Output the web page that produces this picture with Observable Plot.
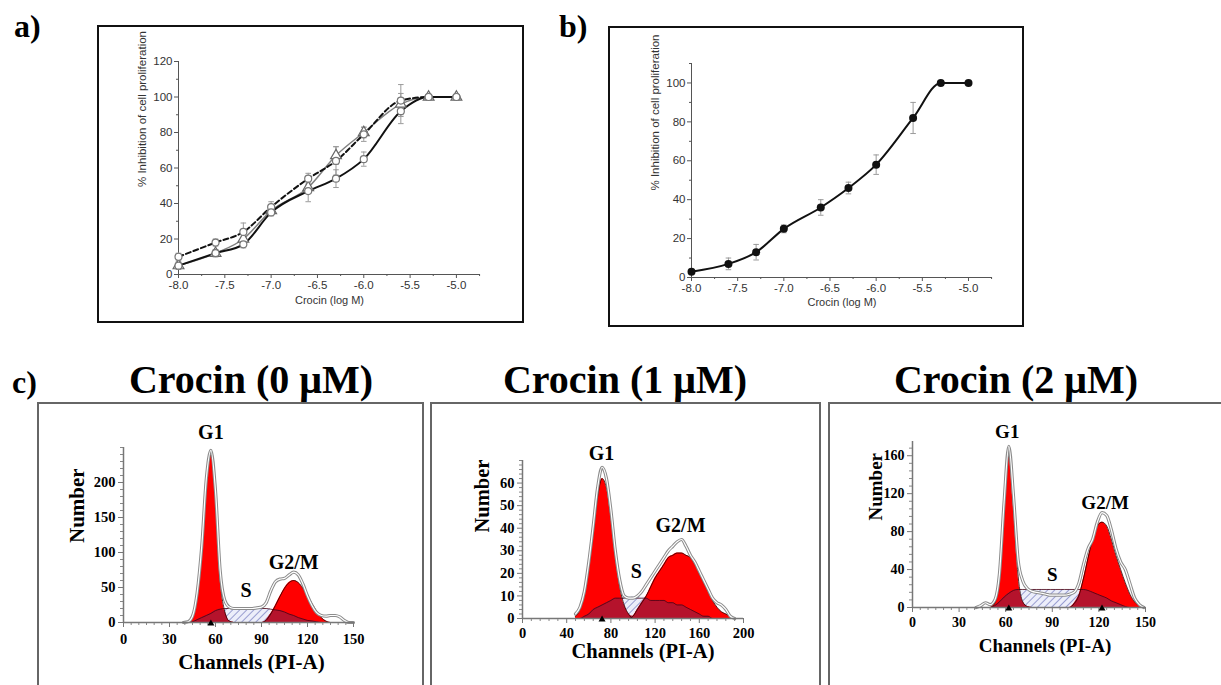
<!DOCTYPE html>
<html><head><meta charset="utf-8">
<script src="https://cdn.jsdelivr.net/npm/d3@7"></script>
<script src="https://cdn.jsdelivr.net/npm/@observablehq/plot@0.6"></script>
<style>
body{margin:0;background:#fff;}
#fig{position:relative;width:1221px;height:685px;overflow:hidden;background:#fff;}
.box{position:absolute;box-sizing:border-box;}
.lbl{position:absolute;font-family:"Liberation Serif",serif;font-weight:bold;font-size:32px;line-height:32px;white-space:nowrap;}
.ttl{position:absolute;font-family:"Liberation Serif",serif;font-weight:bold;font-size:40px;line-height:40px;white-space:nowrap;transform:translateX(-50%);}
</style></head><body><div id="fig"></div>
<script>
// ---------- Panel a / b : dose response ----------
const logDose     = [-8.0,-7.6,-7.3,-7.0,-6.6,-6.3,-6.0,-5.6,-5.3,-5.0];
const aSolid      = [5,12,17,35,47,54,65,92,100,100];
const aSolidErr   = [2,2,2,2,6,5,4,7,0,0];
const aDashed     = [10,18,24,38,54,64,79,98,100,100];
const aDashedErr  = [2,2,5,3,3,8,4,9,0,0];
const aGray       = [5,12,20,36,49,67,80,96,100,100];
const aGrayErr    = [2,2,3,2,3,5,3,6,0,0];
const bMean       = [3,7,13,25,36,46,58,82,100,100];
const bErr        = [1,3,4,2,4,3,5,8,0,0];
const doseTicks   = [-8.0,-7.5,-7.0,-6.5,-6.0,-5.5,-5.0];
const doseMinor   = [-7.75,-7.25,-6.75,-6.25,-5.75,-5.25,-4.75];
const aYTicks     = [0,20,40,60,80,100,120];
const bYTicks     = [0,20,40,60,80,100];
const pctMinor    = [10,30,50,70,90,110];

// ---------- Panel c : cell-cycle histograms ----------
const phaseNames = ["G1","S","G2/M"];
const c1Ch    = [39,42,45,48,51,54,57,60,63,66,69,72,75,78,81,84,87,90,93,96,99,102,105,108,111,114,117,120,123,126,129,132,135,138,141,144,147,150];
const c1G1    = [0,0,8,40,105,200,240,180,62,16,2,0,0,0,0,0,0,0,0,0,0,0,0,0,0,0,0,0,0,0,0,0,0,0,0,0,0,0];
const c1S     = [0,0,1,4,7,10,13,17,19,20,20,20,20,20,20,20,20,20,20,19,18,17,15,12,10,7,5,3,2,1,0,0,0,0,0,0,0,0];
const c1Hatch = [null,null,null,null,null,null,null,null,19,20,20,20,20,20,20,20,20,20,20,19,null,null,null,null,null,null,null,null,null,null,null,null,null,null,null,null,null,null];
const c1G2    = [0,0,0,0,0,0,0,0,0,0,0,0,0,0,0,0,0,0,3,12,24,37,49,57,60,57,49,38,27,16,7,2,0,0,0,0,0,0];
const c1Total = [0,1,9,42,108,205,246,188,75,32,22,20,20,20,20,20,21,22,28,45,58,62,63,68,72,68,55,38,24,14,10,9,10,10,8,3,0,0];
const c1Tri   = [57];

const c2Ch    = [48,52,56,60,64,68,72,76,80,84,88,92,96,100,104,108,112,116,120,124,128,132,136,140,144,148,152,156,160,164,168,172,176,180,184,188,192];
const c2G1    = [1,4,11,23,38,54,62,58,45,28,14,6,2,0,0,0,0,0,0,0,0,0,0,0,0,0,0,0,0,0,0,0,0,0,0,0,0];
const c2S     = [0,0,1,2,4,5,6,7,8,9,9,9,9,9,9,9,9,8,8,8,8,7,7,6,6,5,4,3,2,1,1,0,0,0,0,0,0];
const c2Hatch = [null,null,null,null,null,null,null,null,null,9,9.5,9.5,9.5,9.5,9.5,9.5,9.5,9.5,9,null,null,null,null,null,null,null,null,null,null,null,null,null,null,null,null,null,null];
const c2G2    = [0,0,0,0,0,0,0,0,0,0,0,0,0,1,4,7,10,14,18,21,24,27,28,29,29,28,27,24,20,16,12,8,5,3,2,1,0];
const c2Total = [2,5,12,25,41,58,67,62,48,30,17,10,9,9,10,12,15,18,21,24,27,30,32,34,35,32,28,25,21,17,13,9,7,6,4,1,0];
const c2Tri   = [72];

const c3Ch    = [41,44,47,50,53,56,59,62,65,68,71,74,77,80,83,86,89,92,95,98,101,104,107,110,113,116,119,122,125,128,131,134,137,140,143,146,149];
const c3G1    = [0,0,0,0,5,31,105,160,106,33,6,1,0,0,0,0,0,0,0,0,0,0,0,0,0,0,0,0,0,0,0,0,0,0,0,0,0];
const c3S     = [0,0,0,0,2,6,11,15,18,19,19,19,19,19,19,19,19,19,19,19,19,19,19,19,18,16,14,12,10,7,5,3,1,0,0,0,0];
const c3Hatch = [null,null,null,null,null,null,null,null,18,19,19,19,19,19,19,19,19,19,19,19,19,19,19,19,null,null,null,null,null,null,null,null,null,null,null,null,null];
const c3G2    = [0,0,0,0,0,0,0,0,0,0,0,0,0,0,0,0,0,0,0,0,0,4,12,30,52,72,86,90,86,72,55,40,26,14,6,2,0];
const c3Total = [0,2,5,3,8,36,112,170,118,50,28,20,17,16,15,14,13,13,13,13,14,16,25,45,62,72,90,100,97,82,62,48,40,25,10,3,0];
const c3Tri   = [62,122];

const fig = document.getElementById("fig");
function place(el, left, top){ el.style.position="absolute"; el.style.left=left+"px"; el.style.top=top+"px"; fig.appendChild(el); }
function box(left, top, w, h, border){ const d=document.createElement("div"); d.className="box"; d.style.width=w+"px"; d.style.height=h+"px"; d.style.border=border; place(d,left,top); }
function label(text, cls, left, top){ const d=document.createElement("div"); d.className=cls; d.textContent=text; place(d,left,top); }

box(97,25,427,298,"2.5px solid #111");
box(608,26,416,301,"2.5px solid #111");
box(37,402,387,300,"2px solid #666");
box(430,402,391,300,"2px solid #666");
box(828,402,395,300,"2px solid #666");

label("a)","lbl",14,10);
label("b)","lbl",559,10);
label("c)","lbl",12,366);
label("Crocin (0 \u03BCM)","ttl",251,360);
label("Crocin (1 \u03BCM)","ttl",625,360);
label("Crocin (2 \u03BCM)","ttl",1016,360);

function rowsOf(v, e){ return logDose.map((x,i)=>({x, v:v[i], e:e[i]})); }
function errMarks(rows){
  const r = rows.filter(d=>d.e>0);
  return [
    Plot.ruleX(r,{x:"x", y1:d=>d.v-d.e, y2:d=>d.v+d.e, stroke:"#9a9a9a", strokeWidth:1}),
    Plot.link(r,{x1:d=>d.x-0.03, x2:d=>d.x+0.03, y1:d=>d.v+d.e, y2:d=>d.v+d.e, stroke:"#9a9a9a", strokeWidth:1}),
    Plot.link(r,{x1:d=>d.x-0.03, x2:d=>d.x+0.03, y1:d=>d.v-d.e, y2:d=>d.v-d.e, stroke:"#9a9a9a", strokeWidth:1})
  ];
}
function doseAxes(yTicks, yMax, xlabDy, ylabDx, ylabDy){
  return [
    Plot.ruleX([-8],{y1:0, y2:yMax, stroke:"#555", strokeWidth:1}),
    Plot.ruleY([0],{x1:-8, x2:-4.74, stroke:"#555", strokeWidth:1}),
    Plot.axisX({ticks:doseTicks, tickFormat:d=>d.toFixed(1), tickSize:4, tickPadding:2, stroke:"#555", label:null}),
    Plot.axisX({ticks:doseMinor, tickFormat:()=>"", tickSize:2, stroke:"#555", label:null}),
    Plot.axisY({ticks:yTicks, tickFormat:d=>String(d), tickSize:4, tickPadding:2, stroke:"#555", label:null}),
    Plot.axisY({ticks:pctMinor.filter(t=>t<=yMax), tickFormat:()=>"", tickSize:2, stroke:"#555", label:null}),
    Plot.text(["Crocin (log M)"],{frameAnchor:"bottom", dy:xlabDy, fontSize:11, fill:"#333"}),
    Plot.text(["% Inhibition of cell proliferation"],{frameAnchor:"left", rotate:-90, dx:ylabDx, dy:ylabDy, fontSize:11.5, fill:"#333"})
  ];
}
const doseStyle = {fontFamily:'"Liberation Sans", Arial, sans-serif', fontSize:"11.5px", color:"#333", background:"transparent", overflow:"visible"};

// Panel a
const solidRows = rowsOf(aSolid,aSolidErr), dashedRows = rowsOf(aDashed,aDashedErr), grayRows = rowsOf(aGray,aGrayErr);
const chartA = Plot.plot({
  width:420, height:280, marginLeft:78, marginRight:40, marginTop:21, marginBottom:46,
  x:{domain:[-8,-4.74]}, y:{domain:[0,120]}, style:doseStyle,
  marks:[
    ...doseAxes(aYTicks,120,29,-36,19),
    ...errMarks(solidRows), ...errMarks(dashedRows), ...errMarks(grayRows),
    Plot.line(grayRows,{x:"x", y:"v", stroke:"#808080", strokeWidth:1.5, curve:"monotone-x"}),
    Plot.line(dashedRows,{x:"x", y:"v", stroke:"#111", strokeWidth:2, strokeDasharray:"5,3", curve:"monotone-x"}),
    Plot.line(solidRows,{x:"x", y:"v", stroke:"#111", strokeWidth:2, curve:"monotone-x"}),
    Plot.dot(grayRows,{x:"x", y:"v", symbol:"triangle", r:4, stroke:"#666", fill:"white", strokeWidth:1.2}),
    Plot.dot(dashedRows,{x:"x", y:"v", symbol:"circle", r:3.5, stroke:"#777", fill:"white", strokeWidth:1.2}),
    Plot.dot(solidRows,{x:"x", y:"v", symbol:"circle", r:3.5, stroke:"#777", fill:"white", strokeWidth:1.2})
  ]
});
place(chartA,100,40);

// Panel b
const bRows = rowsOf(bMean,bErr);
const chartB = Plot.plot({
  width:410, height:284, marginLeft:81, marginRight:28, marginTop:23, marginBottom:47,
  x:{domain:[-8,-4.74]}, y:{domain:[0,110]}, style:doseStyle,
  marks:[
    ...doseAxes(bYTicks,110,28,-36,20),
    ...errMarks(bRows),
    Plot.line(bRows,{x:"x", y:"v", stroke:"#111", strokeWidth:2, curve:"monotone-x"}),
    Plot.dot(bRows,{x:"x", y:"v", r:4, fill:"#111"})
  ]
});
place(chartB,610,40);

// Panel c
function histPanel(cfg){
  const rows = cfg.ch.map((c,i)=>({ch:c, g1:cfg.g1[i], s:cfg.s[i], hatch:cfg.hatch[i], g2:cfg.g2[i], total:cfg.total[i],
    dark:Math.min(cfg.s[i], Math.max(cfg.g1[i], cfg.g2[i]))}));
  const curve = "monotone-x";
  const chart = Plot.plot({
    width:cfg.w, height:cfg.h, marginLeft:cfg.ml, marginRight:cfg.mr, marginTop:cfg.mt, marginBottom:cfg.mb,
    x:{domain:[0,cfg.xMax]}, y:{domain:[0,cfg.yMax]},
    style:{fontFamily:'"Liberation Serif", serif', fontWeight:"bold", fontSize:cfg.tickFont+"px", color:"#000", background:"transparent", overflow:"visible"},
    marks:[
      Plot.areaY(rows,{x:"ch", y:"hatch", fill:`url(#${cfg.id})`, curve}),
      Plot.areaY(rows,{x:"ch", y:"g1", fill:"#ff0000", curve}),
      Plot.areaY(rows,{x:"ch", y:"g2", fill:"#ff0000", curve}),
      Plot.areaY(rows,{x:"ch", y:"dark", fill:"#b5132c", curve}),
      Plot.line(rows,{x:"ch", y:"s", stroke:"#4a0010", strokeWidth:0.8, curve}),
      Plot.line(rows,{x:"ch", y:"g1", stroke:"#2a0000", strokeWidth:0.8, curve}),
      Plot.line(rows,{x:"ch", y:"g2", stroke:"#2a0000", strokeWidth:0.8, curve}),
      Plot.line(rows,{x:"ch", y:"total", stroke:"#8c8c8c", strokeWidth:3.2, curve}),
      Plot.line(rows,{x:"ch", y:"total", stroke:"#ffffff", strokeWidth:1.2, curve}),
      Plot.axisY({ticks:cfg.yMinor, tickFormat:()=>"", tickSize:3, stroke:"#888", label:null}),
      Plot.axisX({ticks:cfg.xMinor, tickFormat:()=>"", tickSize:3, stroke:"#888", label:null}),
      Plot.axisY({ticks:cfg.yTicks, tickFormat:d=>String(d), tickSize:5, tickPadding:3, stroke:"#777", label:null}),
      Plot.axisX({ticks:cfg.xTicks, tickFormat:d=>String(d), tickSize:5, tickPadding:cfg.xPad, stroke:"#777", label:null}),
      Plot.ruleX([0],{stroke:"#777", strokeWidth:1.5}),
      Plot.ruleY([0],{stroke:"#777", strokeWidth:1.5}),
      Plot.dot(cfg.tri,{x:d=>d, y:()=>0, symbol:"triangle", fill:"#000", r:2.6, dy:1}),
      Plot.text(phaseNames,{x:(d,i)=>cfg.lx[i], y:(d,i)=>cfg.ly[i], text:d=>d, fontSize:cfg.phaseFont}),
      Plot.text(["Number"],{frameAnchor:"left", rotate:-90, dx:cfg.ndx, dy:cfg.ndy, fontSize:cfg.labFont}),
      Plot.text(["Channels (PI-A)"],{frameAnchor:"bottom", dx:cfg.cdx, dy:cfg.cdy, fontSize:cfg.labFont})
    ]
  });
  const defs = d3.select(chart).insert("defs",":first-child");
  const p = defs.append("pattern").attr("id",cfg.id).attr("patternUnits","userSpaceOnUse")
    .attr("width",5).attr("height",5).attr("patternTransform","rotate(45)");
  p.append("rect").attr("width",5).attr("height",5).attr("fill","#eceefa");
  p.append("line").attr("x1",0).attr("y1",0).attr("x2",0).attr("y2",5).attr("stroke","#7c82c2").attr("stroke-width",1.5);
  place(chart,cfg.left,cfg.top);
}

histPanel({id:"hatch1", ch:c1Ch, g1:c1G1, s:c1S, hatch:c1Hatch, g2:c1G2, total:c1Total, tri:c1Tri,
  xMax:150, yMax:250, xTicks:[0,30,60,90,120,150], xMinor:[5,10,15,20,25,35,40,45,50,55,65,70,75,80,85,95,100,105,110,115,125,130,135,140,145],
  yTicks:[0,50,100,150,200], yMinor:[10,20,30,40,60,70,80,90,110,120,130,140,160,170,180,190,210,220,230,240,250],
  lx:[57,80,111], ly:[271,46,86], phaseFont:20, tickFont:14.5, labFont:21, xPad:6,
  ndx:-46, ndy:8, cdx:13, cdy:46,
  w:380, h:262, ml:83, mr:67, mt:27, mb:60, left:40, top:420});

histPanel({id:"hatch2", ch:c2Ch, g1:c2G1, s:c2S, hatch:c2Hatch, g2:c2G2, total:c2Total, tri:c2Tri,
  xMax:200, yMax:70, xTicks:[0,40,80,120,160,200], xMinor:[8,16,24,32,48,56,64,72,88,96,104,112,128,136,144,152,168,176,184,192],
  yTicks:[0,10,20,30,40,50,60], yMinor:[2,4,6,8,12,14,16,18,22,24,26,28,32,34,36,38,42,44,46,48,52,54,56,58,62,64,66,68,70],
  lx:[71.5,103,143], ly:[73,21,41], phaseFont:20, tickFont:14.5, labFont:20.5, xPad:4,
  ndx:-40, ndy:-7, cdx:10, cdy:39,
  w:385, h:262, ml:89, mr:75, mt:40, mb:64, left:433, top:420});

histPanel({id:"hatch3", ch:c3Ch, g1:c3G1, s:c3S, hatch:c3Hatch, g2:c3G2, total:c3Total, tri:c3Tri,
  xMax:150, yMax:175, xTicks:[0,30,60,90,120,150], xMinor:[5,10,15,20,25,35,40,45,50,55,65,70,75,80,85,95,100,105,110,115,125,130,135,140,145],
  yTicks:[0,40,80,120,160], yMinor:[8,16,24,32,48,56,64,72,88,96,104,112,128,136,144,152,168],
  lx:[61,90,124], ly:[185,34,110], phaseFont:19, tickFont:14, labFont:19, xPad:5,
  ndx:-37, ndy:-4, cdx:16, cdy:44,
  w:388, h:272, ml:81, mr:74, mt:31, mb:75, left:831, top:410});
</script></body></html>
